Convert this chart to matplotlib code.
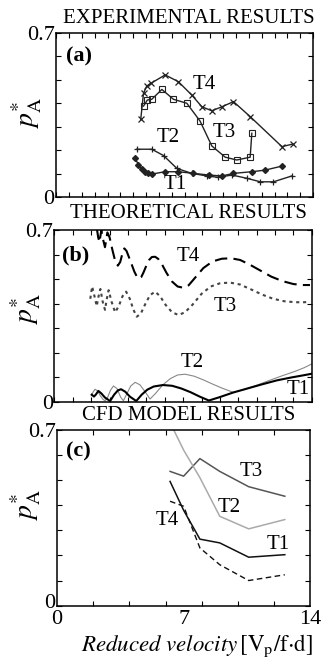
import matplotlib
matplotlib.use("Agg")
import matplotlib.pyplot as plt
import matplotlib.transforms as mtransforms
import numpy as np

plt.rcParams['font.family'] = ['Liberation Serif', 'DejaVu Serif']
plt.rcParams['mathtext.fontset'] = 'stix'

# ---------------- data: (a) experimental ----------------
exp_t4_x = [4.61, 4.76, 4.94, 5.16, 5.94, 6.66, 7.39, 7.94, 8.48, 9.03, 9.66, 10.57, 12.30, 12.89]
exp_t4_y = [0.332, 0.443, 0.474, 0.485, 0.521, 0.492, 0.435, 0.385, 0.368, 0.385, 0.407, 0.343, 0.215, 0.226]

exp_t3_x = [4.76, 4.97, 5.21, 5.76, 6.39, 7.12, 7.84, 8.48, 9.21, 9.84, 10.57, 10.66]
exp_t3_y = [0.388, 0.414, 0.417, 0.459, 0.417, 0.400, 0.324, 0.218, 0.170, 0.158, 0.170, 0.272]

exp_t2_x = [4.39, 5.21, 5.85, 6.58, 7.39, 8.21, 8.84, 9.57, 10.39, 11.12, 11.84, 12.84]
exp_t2_y = [0.204, 0.204, 0.177, 0.122, 0.101, 0.090, 0.084, 0.094, 0.080, 0.065, 0.065, 0.090]

exp_t1_x = [4.30, 4.48, 4.67, 4.85, 5.03, 5.21, 5.94, 6.66, 7.48, 8.30, 9.03, 9.66, 10.66, 11.39, 12.30]
exp_t1_y = [0.168, 0.137, 0.118, 0.108, 0.101, 0.098, 0.108, 0.108, 0.101, 0.094, 0.090, 0.101, 0.108, 0.115, 0.132]

# ---------------- data: (b) theoretical ----------------
th_t4_x = [2.30, 2.38, 2.45, 2.55, 2.65, 2.75, 2.88, 3.00, 3.15, 3.30, 3.45, 3.58, 3.70, 3.80, 3.92,
           4.05, 4.20, 4.35, 4.50, 4.60, 4.72, 4.85, 5.00, 5.15, 5.30, 5.48, 5.65, 5.85, 6.10, 6.40,
           6.70, 7.00, 7.30, 7.70, 8.10, 8.60, 9.10, 9.60, 10.10, 10.60, 11.20, 11.80, 12.40, 13.00,
           13.50, 13.90]
th_t4_y = [0.71, 0.67, 0.65, 0.70, 0.66, 0.63, 0.69, 0.67, 0.62, 0.575, 0.555, 0.57, 0.605, 0.625, 0.615,
           0.59, 0.56, 0.53, 0.508, 0.502, 0.508, 0.528, 0.555, 0.578, 0.59, 0.591, 0.582, 0.56, 0.525, 0.49,
           0.47, 0.465, 0.475, 0.51, 0.545, 0.572, 0.583, 0.585, 0.578, 0.56, 0.535, 0.51, 0.492, 0.48,
           0.476, 0.476]

th_t3_x = [1.95, 2.05, 2.18, 2.30, 2.40, 2.50, 2.62, 2.75, 2.85, 2.95, 3.10, 3.30, 3.50, 3.70, 3.90,
           4.10, 4.30, 4.48, 4.70, 4.95, 5.20, 5.48, 5.75, 6.05, 6.40, 6.75, 7.10, 7.50, 8.00, 8.50,
           9.00, 9.55, 10.10, 10.70, 11.30, 11.90, 12.50, 13.10, 13.60, 13.90]
th_t3_y = [0.42, 0.47, 0.43, 0.39, 0.43, 0.46, 0.41, 0.375, 0.42, 0.455, 0.41, 0.365, 0.39, 0.43, 0.449,
           0.42, 0.375, 0.347, 0.36, 0.40, 0.435, 0.449, 0.43, 0.395, 0.365, 0.354, 0.365, 0.395, 0.44, 0.47,
           0.483, 0.486, 0.478, 0.458, 0.437, 0.42, 0.41, 0.406, 0.406, 0.408]

th_t1_x = [2.03, 2.15, 2.25, 2.39, 2.55, 2.75, 3.03, 3.25, 3.45, 3.62, 3.85, 4.10, 4.45, 4.75, 5.05,
           5.40, 5.90, 6.40, 6.90, 7.40, 7.90, 8.40, 9.00, 9.70, 10.50, 11.30, 12.10, 12.90, 13.50, 14.0]
th_t1_y = [0.03, 0.022, 0.03, 0.045, 0.035, 0.018, 0.004, 0.03, 0.047, 0.052, 0.042, 0.022, 0.004, 0.03, 0.05,
           0.063, 0.069, 0.066, 0.055, 0.04, 0.022, 0.006, 0.02, 0.038, 0.055, 0.072, 0.088, 0.1, 0.108, 0.115]

th_t2_x = [2.00, 2.10, 2.21, 2.35, 2.50, 2.65, 2.76, 2.90, 3.05, 3.21, 3.40, 3.60, 3.75, 3.95, 4.15,
           4.39, 4.65, 4.95, 5.20, 5.50, 5.90, 6.30, 6.70, 7.11, 7.60, 8.10, 8.60, 9.10, 9.70, 10.30,
           11.00, 11.70, 12.40, 13.10, 13.60, 14.0]
th_t2_y = [0.025, 0.04, 0.052, 0.045, 0.025, 0.01, 0.005, 0.02, 0.048, 0.065, 0.055, 0.02, 0.005, 0.035, 0.065,
           0.08, 0.07, 0.04, 0.012, 0.035, 0.07, 0.095, 0.11, 0.113, 0.105, 0.09, 0.073, 0.057, 0.04, 0.05,
           0.068, 0.088, 0.107, 0.125, 0.14, 0.155]

# ---------------- data: (c) CFD ----------------
cfd_x = [6.25, 7.0, 7.9, 9.0, 10.6, 12.6]
cfd_t1 = [0.495, 0.38, 0.265, 0.25, 0.193, 0.203]
cfd_t2 = [0.73, 0.62, 0.51, 0.356, 0.306, 0.343]
cfd_t3 = [0.535, 0.516, 0.586, 0.535, 0.474, 0.436]
cfd_t4 = [0.416, 0.396, 0.23, 0.163, 0.10, 0.123]

ylabel = r'$p_{\mathrm{A}}^{*}$'
LBL = 15

fig = plt.figure(figsize=(3.36, 6.59), dpi=100)
ax_a = fig.add_axes([0.167, 0.701, 0.765, 0.249])
ax_b = fig.add_axes([0.162, 0.390, 0.766, 0.261])
ax_c = fig.add_axes([0.170, 0.081, 0.753, 0.2665])


def style_axes(ax, minor_step):
    ax.set_xlim(0, 14)
    ax.set_ylim(0, 0.7)
    ax.set_yticks([0, 0.7])
    ax.set_yticklabels(['0', '0.7'])
    ax.set_yticks(np.arange(0, 0.71, 0.1), minor=True)
    ax.set_xticks(np.arange(0, 14.01, minor_step), minor=True)
    ax.tick_params(which='both', direction='in', top=True, right=True, length=3.5, width=0.8)
    ax.tick_params(axis='y', which='major', labelsize=16, pad=1)
    for sp in ax.spines.values():
        sp.set_linewidth(1.1)


# (a) experimental
style_axes(ax_a, 0.7)
ax_a.set_xticks([])
ax_a.plot(exp_t4_x, exp_t4_y, color='#222222', lw=1.0, marker='x', ms=5, mew=0.9)
ax_a.plot(exp_t3_x, exp_t3_y, color='#222222', lw=1.0, marker='s', ms=4, mfc='none', mew=0.8)
ax_a.plot(exp_t2_x, exp_t2_y, color='#222222', lw=1.0, marker='+', ms=5, mew=0.9)
ax_a.plot(exp_t1_x, exp_t1_y, color='#222222', lw=1.0, marker='D', ms=3)
ax_a.text(8.06, 0.478, 'T4', fontsize=LBL, ha='center', va='center')
ax_a.text(9.15, 0.277, 'T3', fontsize=LBL, ha='center', va='center')
ax_a.text(6.1, 0.252, 'T2', fontsize=LBL, ha='center', va='center')
ax_a.text(6.48, 0.055, 'T1', fontsize=LBL, ha='center', va='center')
ax_a.text(0.04, 0.855, '(a)', transform=ax_a.transAxes, fontsize=16, fontweight='bold', va='center')
ax_a.text(-0.115, 0.51, ylabel, transform=ax_a.transAxes, fontsize=20, rotation=90, ha='center', va='center')

# (b) theoretical
style_axes(ax_b, 1)
ax_b.set_xticks([])
ax_b.plot(th_t4_x, th_t4_y, color='black', lw=1.5, ls=(0, (6, 3)))
ax_b.plot(th_t3_x, th_t3_y, color='#444444', lw=1.5, ls=(0, (1.5, 1.8)))
ax_b.plot(th_t2_x, th_t2_y, color='#888888', lw=0.8)
ax_b.plot(th_t1_x, th_t1_y, color='black', lw=1.5)
ax_b.text(7.27, 0.594, 'T4', fontsize=LBL, ha='center', va='center')
ax_b.text(9.28, 0.388, 'T3', fontsize=LBL, ha='center', va='center')
ax_b.text(7.52, 0.159, 'T2', fontsize=LBL, ha='center', va='center')
ax_b.text(13.26, 0.049, 'T1', fontsize=LBL, ha='center', va='center')
ax_b.text(0.03, 0.85, '(b)', transform=ax_b.transAxes, fontsize=16, fontweight='bold', va='center')
ax_b.text(-0.11, 0.54, ylabel, transform=ax_b.transAxes, fontsize=20, rotation=90, ha='center', va='center')

# (c) CFD
style_axes(ax_c, 2)
ax_c.set_xticks([0, 7, 14])
ax_c.set_xticklabels(['0', '7', '14'])
ax_c.tick_params(axis='x', which='major', length=0, labelsize=16, pad=3)
# nudge the y "0" label up a little so it clears the x "0"
shift_up = mtransforms.ScaledTranslation(0, 5 / 100, fig.dpi_scale_trans)
ylab0 = ax_c.get_yticklabels()[0]
ylab0.set_transform(ylab0.get_transform() + shift_up)
ax_c.plot(cfd_x, cfd_t3, color='#555555', lw=1.1)
ax_c.plot(cfd_x, cfd_t2, color='#aaaaaa', lw=1.1)
ax_c.plot(cfd_x, cfd_t1, color='#111111', lw=1.1)
ax_c.plot(cfd_x, cfd_t4, color='#111111', lw=1.0, ls=(0, (4, 2.5)))
ax_c.text(10.73, 0.535, 'T3', fontsize=LBL, ha='center', va='center')
ax_c.text(9.52, 0.393, 'T2', fontsize=LBL, ha='center', va='center')
ax_c.text(6.09, 0.339, 'T4', fontsize=LBL, ha='center', va='center')
ax_c.text(12.23, 0.243, 'T1', fontsize=LBL, ha='center', va='center')
ax_c.text(0.035, 0.88, '(c)', transform=ax_c.transAxes, fontsize=16, fontweight='bold', va='center')
ax_c.text(-0.125, 0.57, ylabel, transform=ax_c.transAxes, fontsize=20, rotation=90, ha='center', va='center')

# section titles
fig.text(0.562, 1 - 18.5 / 659, 'EXPERIMENTAL RESULTS', fontsize=15, ha='center', va='center')
fig.text(0.562, 1 - 213 / 659, 'THEORETICAL RESULTS', fontsize=15, ha='center', va='center')
fig.text(0.562, 1 - 416 / 659, 'CFD MODEL RESULTS', fontsize=15, ha='center', va='center')

# x label
fig.text(0.585, 1 - 646 / 659,
         r'$\mathit{Reduced\ velocity}\,[\mathrm{V_p/f{\cdot}d}]$',
         fontsize=16.5, ha='center', va='center')

fig.savefig('out.png', dpi=100)
